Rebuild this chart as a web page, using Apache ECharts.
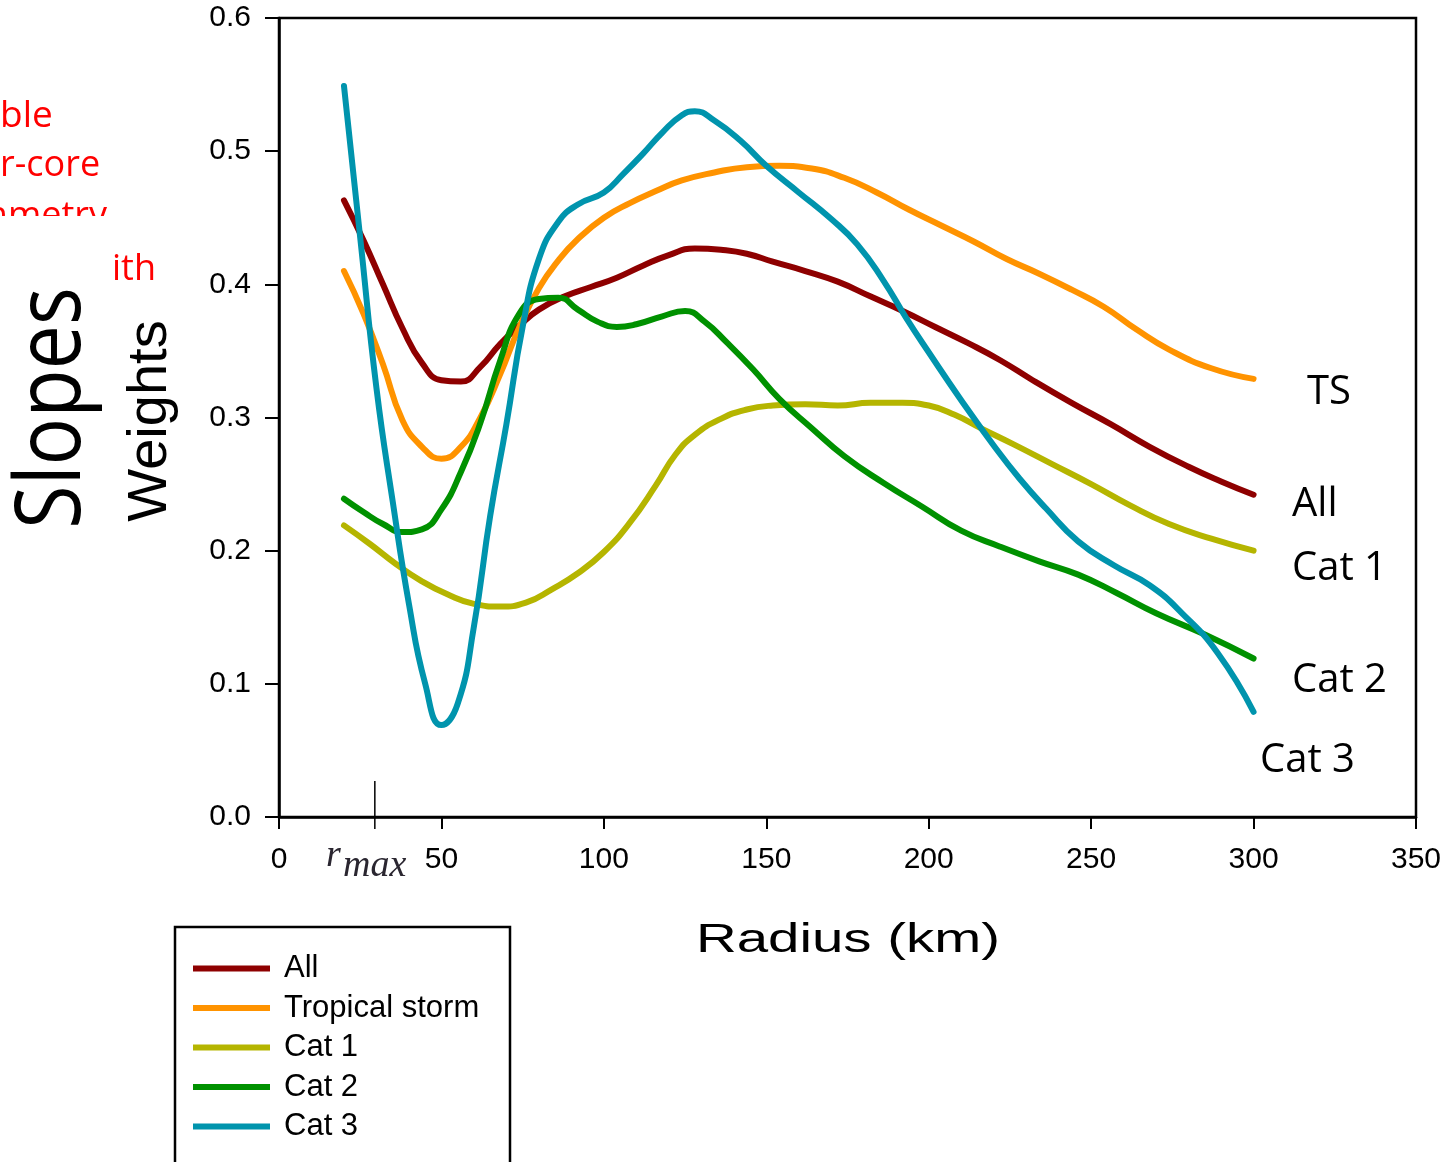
<!DOCTYPE html>
<html>
<head>
<meta charset="utf-8">
<script src="https://cdn.jsdelivr.net/npm/echarts@6/dist/echarts.min.js"></script>
<style>
html,body{margin:0;padding:0;background:#fff;}
#chart{width:1445px;height:1162px;}
</style>
</head>
<body>
<div id="chart"></div>
<script>
// ---- data (radius in km, weight values) ----
const xTicks = [0, 50, 100, 150, 200, 250, 300, 350];
const yTicks = [0.0, 0.1, 0.2, 0.3, 0.4, 0.5, 0.6];

const seriesNames = ['All', 'Tropical storm', 'Cat 1', 'Cat 2', 'Cat 3'];
const endLabels = ['All', 'TS', 'Cat 1', 'Cat 2', 'Cat 3'];

const radiusAll = [20,26,32,38,44,50,56,62,68,74,80,88,96,104,112,120,128,136,144,152,162,172,182,192,202,212,222,232,244,256,268,280,290,300];
const valueAll  = [0.463,0.433,0.400,0.367,0.341,0.328,0.327,0.338,0.355,0.369,0.381,0.391,0.398,0.405,0.414,0.422,0.427,0.426,0.423,0.417,0.410,0.402,0.391,0.380,0.368,0.356,0.343,0.328,0.311,0.295,0.278,0.263,0.252,0.242];

const radiusTS = [20,26,32,38,44,50,56,62,68,74,80,86,92,100,108,116,124,134,144,154,164,174,184,194,204,214,224,234,244,254,264,274,287,300];
const valueTS  = [0.410,0.378,0.340,0.298,0.278,0.269,0.278,0.300,0.332,0.368,0.397,0.418,0.434,0.450,0.461,0.470,0.478,0.484,0.488,0.489,0.487,0.480,0.469,0.456,0.444,0.432,0.419,0.408,0.396,0.383,0.366,0.351,0.337,0.329];

const radiusC1 = [20,28,36,44,52,60,68,76,84,92,100,108,116,122,128,136,144,152,162,172,182,192,200,208,216,226,238,250,262,274,287,300];
const valueC1  = [0.219,0.205,0.190,0.177,0.167,0.160,0.158,0.161,0.171,0.183,0.199,0.221,0.249,0.272,0.287,0.299,0.306,0.309,0.310,0.309,0.311,0.311,0.309,0.302,0.292,0.280,0.265,0.250,0.234,0.220,0.209,0.200];

const radiusC2 = [20,26,32,38,44,50,56,62,68,74,80,86,92,98,104,110,118,125,131,138,146,154,164,174,186,198,210,222,234,246,258,270,285,300];
const valueC2  = [0.239,0.229,0.220,0.214,0.216,0.231,0.259,0.296,0.342,0.378,0.389,0.390,0.381,0.372,0.368,0.370,0.376,0.380,0.372,0.356,0.336,0.314,0.292,0.271,0.251,0.233,0.215,0.203,0.192,0.182,0.168,0.153,0.137,0.119];

const radiusC3 = [20,25,30,35,40,45,50,55,60,65,70,75,80,86,92,100,106,112,118,124,128,134,142,150,160,170,178,186,193,200,210,220,228,236,246,257,268,278,289,300];
const valueC3  = [0.549,0.435,0.322,0.237,0.160,0.100,0.069,0.085,0.143,0.226,0.295,0.368,0.419,0.447,0.460,0.469,0.483,0.498,0.514,0.527,0.530,0.523,0.508,0.489,0.469,0.449,0.430,0.403,0.375,0.349,0.313,0.279,0.254,0.232,0.207,0.189,0.174,0.153,0.123,0.079];

const rmaxX = [29.5, 29.5];
const rmaxY = [-0.009, 0.027];

const colors = ['#8E0000', '#FF9300', '#B5B500', '#009100', '#0094AD'];

function pairs(xs, ys) { return xs.map((x, i) => [x, ys[i]]); }

const lineData = [
  pairs(radiusAll, valueAll),
  pairs(radiusTS, valueTS),
  pairs(radiusC1, valueC1),
  pairs(radiusC2, valueC2),
  pairs(radiusC3, valueC3)
];

const chart = echarts.init(document.getElementById('chart'), null, {renderer: 'canvas'});

const series = seriesNames.map((name, i) => ({
  name: name,
  type: 'line',
  data: lineData[i],
  smooth: 0.5,
  symbol: 'none',
  color: colors[i],
  lineStyle: {width: 6, color: colors[i], cap: 'round', join: 'round'},
  z: 3 + i,
  animation: false
}));

series.push({
  name: 'rmax',
  type: 'line',
  data: pairs(rmaxX, rmaxY),
  symbol: 'none',
  clip: false,
  lineStyle: {width: 1.5, color: '#000'},
  silent: true,
  animation: false
});

const tickFont = '"Liberation Sans", Arial, sans-serif';

const option = {
  backgroundColor: '#fff',
  animation: false,
  grid: {
    left: 279, top: 18, right: 29, bottom: 345,
    show: true, borderColor: '#000', borderWidth: 2.5, backgroundColor: 'transparent'
  },
  xAxis: {
    type: 'value', min: xTicks[0], max: xTicks[xTicks.length - 1], interval: 50,
    splitLine: {show: false},
    axisLine: {show: true, onZero: false, lineStyle: {color: '#000', width: 2.5}},
    axisTick: {show: true, inside: false, length: 12, lineStyle: {color: '#000', width: 2}},
    axisLabel: {color: '#000', fontSize: 30, fontFamily: tickFont, margin: 28,
      showMinLabel: true, showMaxLabel: true}
  },
  yAxis: {
    type: 'value', min: yTicks[0], max: yTicks[yTicks.length - 1], interval: 0.1,
    splitLine: {show: false},
    axisLine: {show: true, onZero: false, lineStyle: {color: '#000', width: 2.5}},
    axisTick: {show: true, inside: false, length: 14, lineStyle: {color: '#000', width: 2}},
    axisLabel: {color: '#000', fontSize: 30, fontFamily: tickFont, margin: 28,
      formatter: v => v.toFixed(1), showMinLabel: true, showMaxLabel: true}
  },
  legend: {
    data: seriesNames,
    orient: 'vertical',
    left: 193, top: 953,
    padding: 0,
    itemWidth: 77, itemHeight: 6, itemGap: 8.5,
    icon: 'rect',
    selectedMode: false,
    textStyle: {color: '#000', fontSize: 31, fontFamily: tickFont, lineHeight: 30, padding: [0, 0, 0, 9]}
  },
  graphic: [
    // red background text (partially hidden)
    {type: 'text', x: 0, y: 116, z: 1, style: {text: 'ble', font: '37px "Open Sans"', fill: '#FF0000', align: 'left', verticalAlign: 'middle'}},
    {type: 'text', x: 0, y: 166, z: 1, style: {text: 'r-core', font: '36px "Open Sans"', fill: '#FF0000', align: 'left', verticalAlign: 'middle'}},
    {type: 'text', x: 107, y: 217, z: 1, style: {text: 'symmetry', font: '36px "Open Sans"', fill: '#FF0000', align: 'right', verticalAlign: 'middle'}},
    {type: 'text', x: 156, y: 270, z: 1, style: {text: 'with', font: '36px "Open Sans"', fill: '#FF0000', align: 'right', verticalAlign: 'middle'}},
    {type: 'rect', z: 2, shape: {x: 0, y: 216, width: 112, height: 360}, style: {fill: '#fff'}},
    // y axis titles
    {type: 'text', x: 54, y: 408, z: 3, rotation: Math.PI / 2, scaleX: 0.86,
      style: {text: 'Slopes', font: '92px "Open Sans"', fill: '#000', align: 'center', verticalAlign: 'middle'}},
    {type: 'text', x: 151, y: 421, z: 3, rotation: Math.PI / 2,
      style: {text: 'Weights', font: '56px "Liberation Sans"', fill: '#000', align: 'center', verticalAlign: 'middle'}},
    // x axis title
    {type: 'text', x: 848, y: 941, z: 3, scaleX: 1.41,
      style: {text: 'Radius (km)', font: '40px "Liberation Sans"', fill: '#000', align: 'center', verticalAlign: 'middle'}},
    // r_max label
    {type: 'text', x: 326, y: 856, z: 3,
      style: {text: 'r', font: 'italic 38px "Liberation Serif"', fill: '#2a2630', align: 'left', verticalAlign: 'middle'}},
    {type: 'text', x: 343, y: 866, z: 3,
      style: {text: 'max', font: 'italic 38px "Liberation Serif"', fill: '#2a2630', align: 'left', verticalAlign: 'middle'}},
    // end labels
    {type: 'text', x: 1307, y: 393, z: 3, style: {text: endLabels[1], font: '40px "Open Sans"', fill: '#000', align: 'left', verticalAlign: 'middle'}},
    {type: 'text', x: 1292, y: 505, z: 3, style: {text: endLabels[0], font: '40px "Open Sans"', fill: '#000', align: 'left', verticalAlign: 'middle'}},
    {type: 'text', x: 1292, y: 569, z: 3, style: {text: endLabels[2], font: '40px "Open Sans"', fill: '#000', align: 'left', verticalAlign: 'middle'}},
    {type: 'text', x: 1292, y: 681, z: 3, style: {text: endLabels[3], font: '40px "Open Sans"', fill: '#000', align: 'left', verticalAlign: 'middle'}},
    {type: 'text', x: 1260, y: 761, z: 3, style: {text: endLabels[4], font: '40px "Open Sans"', fill: '#000', align: 'left', verticalAlign: 'middle'}},
    // legend frame
    {type: 'rect', z: 3, shape: {x: 175, y: 927, width: 335, height: 300}, style: {fill: 'none', stroke: '#000', lineWidth: 2.5}}
  ],
  series: series
};

chart.setOption(option);
</script>
</body>
</html>
